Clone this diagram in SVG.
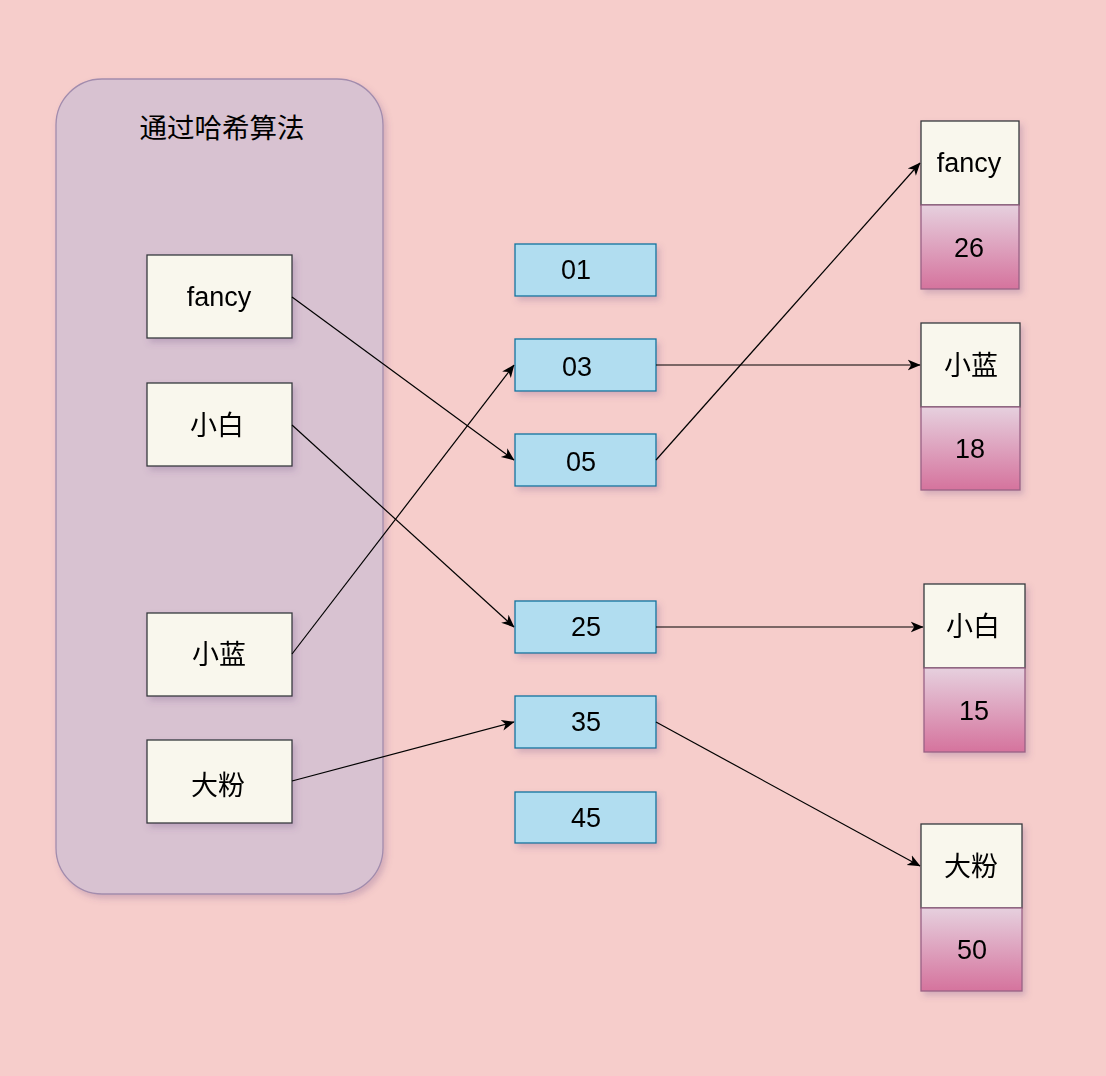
<svg xmlns="http://www.w3.org/2000/svg" width="1106" height="1076" viewBox="0 0 1106 1076">
  <style>
    .t { font-family: "Liberation Sans", Arial, "Noto Sans CJK SC", sans-serif; font-size: 27px; fill: #000; text-anchor: middle; }
    .title { font-size: 27.5px; }
    .key { fill: #f9f7ed; stroke: #36393d; stroke-width: 1.3; }
    .slot { fill: #b1ddf0; stroke: #10739e; stroke-width: 1.3; }
    .val { fill: url(#valGrad); stroke: #996185; stroke-width: 1.3; }
    .edge { fill: none; stroke: #000; stroke-width: 1.2; marker-end: url(#arrow); }
  </style>
  <defs>
    <filter id="shadow" x="-20%" y="-20%" width="150%" height="150%">
      <feDropShadow dx="3" dy="4" stdDeviation="3" flood-color="#6a4a80" flood-opacity="0.25"/>
    </filter>
    <linearGradient id="valGrad" x1="0" y1="0" x2="0" y2="1">
      <stop offset="0" stop-color="#e6d0de"/>
      <stop offset="1" stop-color="#d5739d"/>
    </linearGradient>
    <marker id="arrow" viewBox="0 0 10 10" refX="9.5" refY="5" markerWidth="13" markerHeight="13" markerUnits="userSpaceOnUse" orient="auto">
      <path d="M0,0.8 L10,5 L0,9.2 L2.8,5 Z" fill="#000"/>
    </marker>
  </defs>

  <rect width="1106" height="1076" fill="#f6cdcb"/>

  <!-- hashing container -->
  <g id="hash-container">
    <rect x="56" y="79" width="327" height="815" rx="46" ry="46" fill="#d8c2d1" stroke="#a28cad" stroke-width="1.3" filter="url(#shadow)"/>
    <text class="t title" x="222" y="138">通过哈希算法</text>
  </g>

  <!-- input keys -->
  <g id="key-fancy" filter="url(#shadow)">
    <rect class="key" x="147" y="255" width="145" height="83"/>
    <text class="t" x="219" y="306">fancy</text>
  </g>
  <g id="key-xiaobai" filter="url(#shadow)">
    <rect class="key" x="147" y="383" width="145" height="83"/>
    <text class="t" x="217" y="435">小白</text>
  </g>
  <g id="key-xiaolan" filter="url(#shadow)">
    <rect class="key" x="147" y="613" width="145" height="83"/>
    <text class="t" x="219" y="664">小蓝</text>
  </g>
  <g id="key-dafen" filter="url(#shadow)">
    <rect class="key" x="147" y="740" width="145" height="83"/>
    <text class="t" x="218" y="795">大粉</text>
  </g>

  <!-- hash slots -->
  <g id="slot-01" filter="url(#shadow)">
    <rect class="slot" x="515" y="244" width="141" height="52"/>
    <text class="t" x="576" y="279">01</text>
  </g>
  <g id="slot-03" filter="url(#shadow)">
    <rect class="slot" x="515" y="339" width="141" height="52"/>
    <text class="t" x="577" y="376">03</text>
  </g>
  <g id="slot-05" filter="url(#shadow)">
    <rect class="slot" x="515" y="434" width="141" height="52"/>
    <text class="t" x="581" y="471">05</text>
  </g>
  <g id="slot-25" filter="url(#shadow)">
    <rect class="slot" x="515" y="601" width="141" height="52"/>
    <text class="t" x="586" y="636">25</text>
  </g>
  <g id="slot-35" filter="url(#shadow)">
    <rect class="slot" x="515" y="696" width="141" height="52"/>
    <text class="t" x="586" y="731">35</text>
  </g>
  <g id="slot-45" filter="url(#shadow)">
    <rect class="slot" x="515" y="792" width="141" height="51"/>
    <text class="t" x="586" y="827">45</text>
  </g>

  <!-- stored entries -->
  <g id="entry-fancy" filter="url(#shadow)">
    <rect class="key" x="921" y="121" width="98" height="84"/>
    <rect class="val" x="921" y="205" width="98" height="84"/>
    <text class="t" x="969" y="172">fancy</text>
    <text class="t" x="969" y="257">26</text>
  </g>
  <g id="entry-xiaolan" filter="url(#shadow)">
    <rect class="key" x="921" y="323" width="99" height="84"/>
    <rect class="val" x="921" y="407" width="99" height="83"/>
    <text class="t" x="971" y="375">小蓝</text>
    <text class="t" x="970" y="458">18</text>
  </g>
  <g id="entry-xiaobai" filter="url(#shadow)">
    <rect class="key" x="924" y="584" width="101" height="84"/>
    <rect class="val" x="924" y="668" width="101" height="84"/>
    <text class="t" x="973" y="636">小白</text>
    <text class="t" x="974" y="720">15</text>
  </g>
  <g id="entry-dafen" filter="url(#shadow)">
    <rect class="key" x="921" y="824" width="101" height="84"/>
    <rect class="val" x="921" y="908" width="101" height="83"/>
    <text class="t" x="971" y="876">大粉</text>
    <text class="t" x="972" y="959">50</text>
  </g>

  <!-- connectors -->
  <g id="connectors">
    <path class="edge" d="M292,297 L514,460"/>
    <path class="edge" d="M292,425 L514,627"/>
    <path class="edge" d="M292,654 L514,365"/>
    <path class="edge" d="M292,781 L514,722"/>
    <path class="edge" d="M656,365 L920,365"/>
    <path class="edge" d="M656,460 L920,163"/>
    <path class="edge" d="M656,627 L923,627"/>
    <path class="edge" d="M656,722 L920,866"/>
  </g>
</svg>
